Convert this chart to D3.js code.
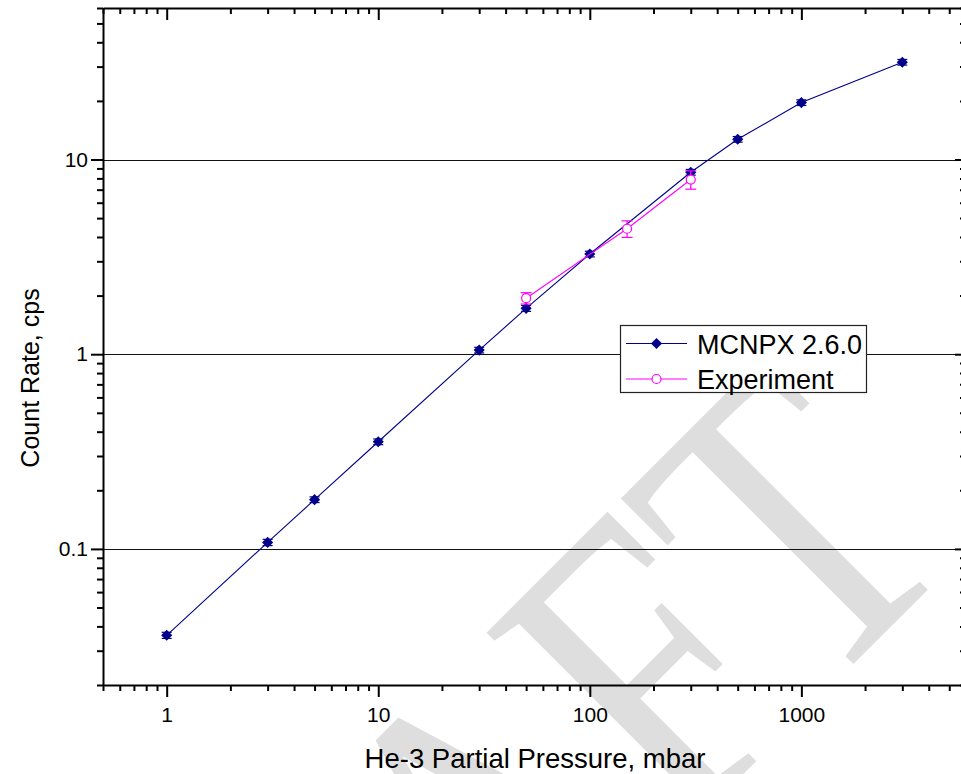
<!DOCTYPE html>
<html>
<head>
<meta charset="utf-8">
<script src="https://cdn.jsdelivr.net/npm/d3@7"></script>
<style>
  html, body { margin: 0; padding: 0; background: #fff; }
  svg { display: block; }
  text { font-family: "Liberation Sans", Arial, sans-serif; }
</style>
</head>
<body>
<svg id="chart" width="961" height="774"></svg>
<script>
// ---- data ----
const pressureMCNPX = [1, 3, 5, 10, 30, 50, 100, 300, 500, 1000, 3000];
const rateMCNPX     = [0.036, 0.108, 0.179, 0.355, 1.05, 1.72, 3.27, 8.6, 12.7, 19.6, 31.6];
const errMCNPX      = [0.0013, 0.004, 0.006, 0.012, 0.035, 0.06, 0.11, 0.29, 0.42, 0.65, 1.05];

const pressureExp = [50, 150, 300];
const rateExp     = [1.94, 4.41, 7.89];
const errExp      = [0.13, 0.43, 0.85];

const xMajorTicks = [1, 10, 100, 1000];
const xTickLabels = ["1", "10", "100", "1000"];
const yMajorTicks = [0.1, 1, 10];
const yTickLabels = ["0.1", "1", "10"];

const seriesNames = ["MCNPX 2.6.0", "Experiment"];
const xTitle = "He-3 Partial Pressure, mbar";
const yTitle = "Count Rate, cps";
const watermark = "DRAFT";

// ---- layout ----
const W = 961, H = 774;
const pLeft = 103, pRight = 966, pTop = 8, pBottom = 685;
const navy = "#00008b", magenta = "#ff00ff";

const x = d3.scaleLog().domain([0.5, 6000]).range([pLeft, pRight]);
const y = d3.scaleLog().domain([0.02, 60]).range([pBottom, pTop]);

function minorTicks(domain) {
  const out = [];
  const lo = Math.floor(Math.log10(domain[0])), hi = Math.ceil(Math.log10(domain[1]));
  for (let e = lo; e <= hi; e++) {
    for (let m = 2; m <= 9; m++) {
      const v = m * Math.pow(10, e);
      if (v >= domain[0] * 0.9999 && v <= domain[1] * 1.0001) out.push(v);
    }
  }
  return out;
}
const xMinor = minorTicks(x.domain());
const yMinor = minorTicks(y.domain());

const svg = d3.select("#chart");
svg.append("rect").attr("width", W).attr("height", H).attr("fill", "#fff");

// watermark
svg.append("text")
  .text(watermark)
  .attr("transform", "rotate(-45) scale(0.81,1)")
  .attr("x", 293 / 0.81)
  .attr("y", 1073)
  .attr("text-anchor", "end")
  .style("font-family", "'Liberation Serif', 'Times New Roman', serif")
  .style("font-size", "430px")
  .attr("fill", "#dedede");

// gridlines
svg.append("g").selectAll("line").data(yMajorTicks).join("line")
  .attr("x1", pLeft).attr("x2", pRight)
  .attr("y1", d => Math.round(y(d)) + 0.5).attr("y2", d => Math.round(y(d)) + 0.5)
  .attr("stroke", "#111").attr("stroke-width", 1);

// axes
function styleAxis(g) {
  g.selectAll("path.domain").attr("stroke", "#000").attr("stroke-width", 2);
  g.selectAll(".tick line").attr("stroke", "#000").attr("stroke-width", 2);
  g.selectAll(".tick text").attr("fill", "#000").style("font-size", "21px");
}
// bottom
svg.append("g").attr("transform", `translate(0,${pBottom})`)
  .call(d3.axisBottom(x).tickValues(xMinor).tickSizeInner(6).tickSizeOuter(0).tickFormat(""))
  .call(styleAxis);
svg.append("g").attr("transform", `translate(0,${pBottom})`)
  .call(d3.axisBottom(x).tickValues(xMajorTicks).tickSizeInner(12).tickSizeOuter(0).tickPadding(10)
        .tickFormat((d, i) => xTickLabels[i]))
  .call(styleAxis)
  .call(g => g.select("path.domain").remove());
// top (inward)
svg.append("g").attr("transform", `translate(0,${pTop})`)
  .call(d3.axisTop(x).tickValues(xMinor).tickSizeInner(-6).tickSizeOuter(0).tickFormat(""))
  .call(styleAxis);
svg.append("g").attr("transform", `translate(0,${pTop})`)
  .call(d3.axisTop(x).tickValues(xMajorTicks).tickSizeInner(-12).tickSizeOuter(0).tickFormat(""))
  .call(styleAxis)
  .call(g => g.select("path.domain").remove());
// left
svg.append("g").attr("transform", `translate(${pLeft},0)`)
  .call(d3.axisLeft(y).tickValues(yMinor).tickSizeInner(6).tickSizeOuter(0).tickFormat(""))
  .call(styleAxis);
svg.append("g").attr("transform", `translate(${pLeft},0)`)
  .call(d3.axisLeft(y).tickValues(yMajorTicks).tickSizeInner(12).tickSizeOuter(0).tickPadding(3)
        .tickFormat((d, i) => yTickLabels[i]))
  .call(styleAxis)
  .call(g => g.select("path.domain").remove());
// right (inward)
svg.append("g").attr("transform", `translate(${pRight},0)`)
  .call(d3.axisRight(y).tickValues(yMinor).tickSizeInner(-6).tickSizeOuter(0).tickFormat(""))
  .call(styleAxis);
svg.append("g").attr("transform", `translate(${pRight},0)`)
  .call(d3.axisRight(y).tickValues(yMajorTicks).tickSizeInner(-11).tickSizeOuter(0).tickFormat(""))
  .call(styleAxis)
  .call(g => g.select("path.domain").remove());

// axis titles
svg.append("text").text(xTitle)
  .attr("x", 535).attr("y", 768).attr("text-anchor", "middle")
  .style("font-size", "27.5px").attr("fill", "#000");
svg.append("text").text(yTitle)
  .attr("transform", `translate(39,378) rotate(-90)`)
  .attr("text-anchor", "middle")
  .style("font-size", "25px").attr("fill", "#000");

// series
const mc = pressureMCNPX.map((p, i) => ({ p, r: rateMCNPX[i], e: errMCNPX[i] }));
const ex = pressureExp.map((p, i) => ({ p, r: rateExp[i], e: errExp[i] }));
const line = d3.line().x(d => x(d.p)).y(d => y(d.r));

function errorBars(g, data, color, cap) {
  const eb = g.append("g").attr("stroke", color).attr("stroke-width", 1.2).attr("fill", "none");
  eb.selectAll("line.v").data(data).join("line").attr("class", "v")
    .attr("x1", d => x(d.p)).attr("x2", d => x(d.p))
    .attr("y1", d => y(d.r + d.e)).attr("y2", d => y(d.r - d.e));
  eb.selectAll("line.t").data(data).join("line").attr("class", "t")
    .attr("x1", d => x(d.p) - cap).attr("x2", d => x(d.p) + cap)
    .attr("y1", d => y(d.r + d.e)).attr("y2", d => y(d.r + d.e));
  eb.selectAll("line.b").data(data).join("line").attr("class", "b")
    .attr("x1", d => x(d.p) - cap).attr("x2", d => x(d.p) + cap)
    .attr("y1", d => y(d.r - d.e)).attr("y2", d => y(d.r - d.e));
}

const gMc = svg.append("g");
gMc.append("path").datum(mc).attr("d", line)
  .attr("fill", "none").attr("stroke", navy).attr("stroke-width", 1.1);
errorBars(gMc, mc, navy, 5);
const diamond = d3.symbol().type(d3.symbolSquare).size(62);
gMc.selectAll("path.m").data(mc).join("path").attr("class", "m")
  .attr("d", diamond)
  .attr("transform", d => `translate(${x(d.p)},${y(d.r)}) rotate(45)`)
  .attr("fill", navy);

const gEx = svg.append("g");
gEx.append("path").datum(ex).attr("d", line)
  .attr("fill", "none").attr("stroke", magenta).attr("stroke-width", 1.1);
errorBars(gEx, ex, magenta, 5.5);
gEx.selectAll("circle").data(ex).join("circle")
  .attr("cx", d => x(d.p)).attr("cy", d => y(d.r)).attr("r", 4.5)
  .attr("fill", "#fff").attr("stroke", magenta).attr("stroke-width", 1.2);

// legend
const lg = svg.append("g");
lg.append("rect").attr("x", 620.5).attr("y", 325.5).attr("width", 246).attr("height", 67)
  .attr("fill", "#fff").attr("stroke", "#222").attr("stroke-width", 1.2);
const legendRows = [
  { name: seriesNames[0], color: navy, type: "diamond", yy: 343.5 },
  { name: seriesNames[1], color: magenta, type: "circle", yy: 379 }
];
legendRows.forEach(r => {
  lg.append("line").attr("x1", 626).attr("x2", 687).attr("y1", r.yy).attr("y2", r.yy)
    .attr("stroke", r.color).attr("stroke-width", 1.1);
  if (r.type === "diamond") {
    lg.append("path").attr("d", diamond).attr("transform", `translate(656.5,${r.yy}) rotate(45)`)
      .attr("fill", r.color);
  } else {
    lg.append("circle").attr("cx", 656.5).attr("cy", r.yy).attr("r", 4.5)
      .attr("fill", "#fff").attr("stroke", r.color).attr("stroke-width", 1.2);
  }
  lg.append("text").text(r.name).attr("x", 697).attr("y", r.yy + 10)
    .style("font-size", "27px").attr("fill", "#000");
});
</script>
</body>
</html>
